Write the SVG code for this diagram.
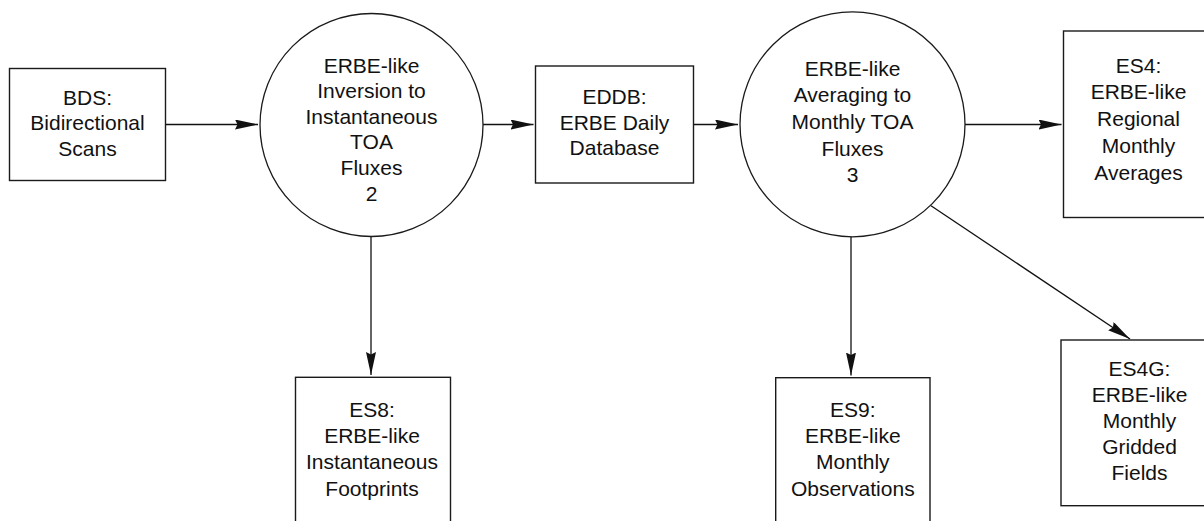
<svg xmlns="http://www.w3.org/2000/svg" width="1204" height="521" viewBox="0 0 1204 521">
<style>
  .box { fill: #fff; stroke: #1a1a1a; stroke-width: 1.4; }
  .proc { fill: #fff; stroke: #1a1a1a; stroke-width: 1.3; }
  .lbl { font-family: "Liberation Sans", Arial, sans-serif; font-size: 21px; fill: #111; text-anchor: middle; }
  .conn { stroke: #111; stroke-width: 1.3; fill: none; marker-end: url(#ah); }
</style>
<defs>
  <marker id="ah" markerUnits="userSpaceOnUse" markerWidth="24" markerHeight="11" refX="23" refY="5" orient="auto">
    <path d="M0,0 L23,5 L0,10 L2.5,5 z" fill="#111"/>
  </marker>
</defs>
<rect width="1204" height="521" fill="#fff"/>

<g id="connectors">
  <line class="conn" x1="165.5" y1="124.5" x2="258" y2="124.5"/>
  <line class="conn" x1="483" y1="124.5" x2="533.5" y2="124.5"/>
  <line class="conn" x1="693.5" y1="124.5" x2="738" y2="124.5"/>
  <line class="conn" x1="965" y1="124.5" x2="1061.5" y2="124.5"/>
  <line class="conn" x1="371" y1="236.5" x2="371" y2="375"/>
  <line class="conn" x1="851" y1="236.5" x2="851" y2="375.5"/>
  <line class="conn" x1="931" y1="205.7" x2="1130" y2="339"/>
</g>

<g id="bds">
  <rect class="box" x="9.5" y="68.5" width="156" height="112"/>
  <text class="lbl" x="87.5" y="104.5">BDS:</text>
  <text class="lbl" x="87.5" y="130.2">Bidirectional</text>
  <text class="lbl" x="87.5" y="155.9">Scans</text>
</g>

<g id="proc2">
  <circle class="proc" cx="371.5" cy="125" r="111.5"/>
  <text class="lbl" x="371.5" y="72.5">ERBE-like</text>
  <text class="lbl" x="371.5" y="98.1">Inversion to</text>
  <text class="lbl" x="371.5" y="123.7">Instantaneous</text>
  <text class="lbl" x="371.5" y="149.3">TOA</text>
  <text class="lbl" x="371.5" y="174.9">Fluxes</text>
  <text class="lbl" x="371.5" y="200.5">2</text>
</g>

<g id="eddb">
  <rect class="box" x="535.5" y="66" width="158" height="117"/>
  <text class="lbl" x="614.5" y="104">EDDB:</text>
  <text class="lbl" x="614.5" y="129.5">ERBE Daily</text>
  <text class="lbl" x="614.5" y="155">Database</text>
</g>

<g id="proc3">
  <circle class="proc" cx="852.5" cy="124.3" r="112.5"/>
  <text class="lbl" x="852.5" y="75.5">ERBE-like</text>
  <text class="lbl" x="852.5" y="102.2">Averaging to</text>
  <text class="lbl" x="852.5" y="128.9">Monthly TOA</text>
  <text class="lbl" x="852.5" y="155.6">Fluxes</text>
  <text class="lbl" x="852.5" y="182.3">3</text>
</g>

<g id="es4">
  <rect class="box" x="1063.5" y="31" width="150" height="186.5"/>
  <text class="lbl" x="1138.5" y="72.5">ES4:</text>
  <text class="lbl" x="1138.5" y="99.3">ERBE-like</text>
  <text class="lbl" x="1138.5" y="126.1">Regional</text>
  <text class="lbl" x="1138.5" y="152.9">Monthly</text>
  <text class="lbl" x="1138.5" y="179.7">Averages</text>
</g>

<g id="es8">
  <rect class="box" x="295.5" y="377.3" width="155" height="160"/>
  <text class="lbl" x="372" y="416.5">ES8:</text>
  <text class="lbl" x="372" y="442.9">ERBE-like</text>
  <text class="lbl" x="372" y="469.3">Instantaneous</text>
  <text class="lbl" x="372" y="495.7">Footprints</text>
</g>

<g id="es9">
  <rect class="box" x="775.7" y="377.7" width="154.3" height="160"/>
  <text class="lbl" x="852.8" y="417">ES9:</text>
  <text class="lbl" x="852.8" y="443.2">ERBE-like</text>
  <text class="lbl" x="852.8" y="469.4">Monthly</text>
  <text class="lbl" x="852.8" y="495.6">Observations</text>
</g>

<g id="es4g">
  <rect class="box" x="1061" y="340" width="157" height="165.7"/>
  <text class="lbl" x="1139.5" y="375.5">ES4G:</text>
  <text class="lbl" x="1139.5" y="401.5">ERBE-like</text>
  <text class="lbl" x="1139.5" y="427.5">Monthly</text>
  <text class="lbl" x="1139.5" y="453.5">Gridded</text>
  <text class="lbl" x="1139.5" y="479.5">Fields</text>
</g>
</svg>
